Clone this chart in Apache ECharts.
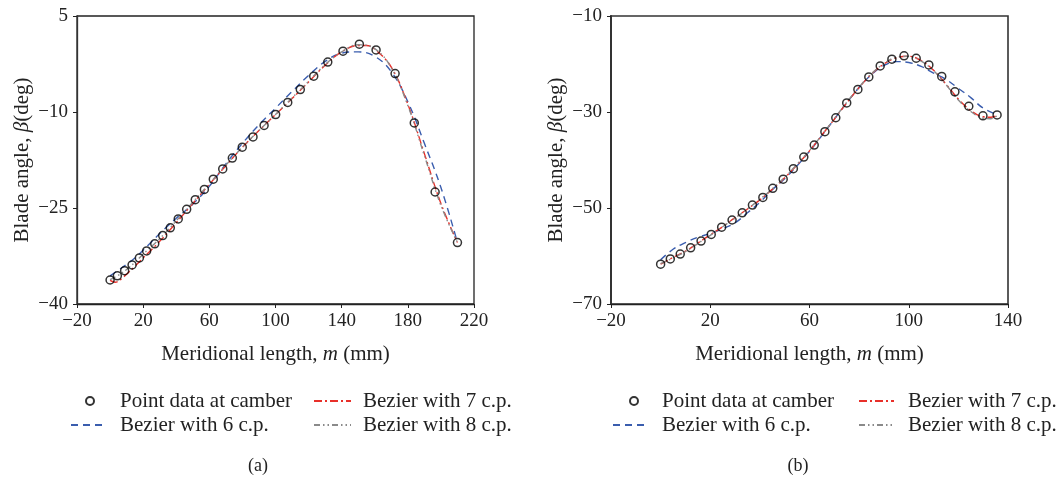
<!DOCTYPE html>
<html><head><meta charset="utf-8">
<script src="https://cdn.jsdelivr.net/npm/echarts@6/dist/echarts.min.js"></script>
<style>html,body{margin:0;padding:0;background:#fff}#c{width:1062px;height:485px}</style>
</head><body><div id="c"></div>
<script>
// ---------- (a) ----------
const aPointX = [0,4.4,8.8,13.3,17.7,22.1,27,31.8,36.4,41.2,46.3,51.5,57,62.4,68.1,73.9,79.9,86.4,93.1,100.1,107.4,115,123.1,131.6,140.8,150.7,160.8,172.3,183.9,196.5,210];
const aPointY = [-36.25,-35.6,-34.8,-33.9,-32.8,-31.7,-30.6,-29.3,-28.1,-26.7,-25.2,-23.7,-22.1,-20.5,-18.9,-17.2,-15.5,-13.9,-12.1,-10.4,-8.5,-6.5,-4.4,-2.2,-0.5,0.6,-0.3,-4.0,-11.7,-22.5,-30.4];
const a6X = [0,5,10,15,20,25,30,40,50,60,70,80,90,100,110,120,130,140,150,160,170,180,190,200,210];
const a6Y = [-35.6,-34.7,-33.8,-32.8,-31.6,-30.3,-29.0,-26.6,-24.4,-21.6,-18.1,-14.9,-12.0,-9.4,-6.8,-4.3,-2.1,-0.8,-0.6,-1.3,-3.7,-8.4,-14.9,-21.8,-30.4];
const a7X = [0,3,8,15,20,30,40,50,60,70,80,90,100,110,120,130,140,150,155,160,170,180,190,200,210];
const a7Y = [-36.3,-36.6,-35.8,-34.1,-32.8,-30.2,-27.3,-24.3,-21.3,-18.4,-15.5,-12.9,-10.4,-7.9,-5.3,-2.7,-0.6,0.4,0.4,-0.2,-3.0,-8.8,-16.5,-24.3,-30.4];
const a8X = [0,5,10,15,20,30,40,50,60,70,80,90,100,110,120,130,140,150,160,170,180,190,200,210];
const a8Y = [-36.2,-35.5,-34.6,-33.5,-32.2,-29.8,-27.0,-24.1,-21.2,-18.3,-15.5,-12.9,-10.4,-7.8,-5.2,-2.6,-0.6,0.5,-0.1,-3.1,-9.0,-16.8,-24.6,-30.4];
const aXTicks = [-20,20,60,100,140,180,220];
const aYTicks = [-40,-25,-10,5];

// ---------- (b) ----------
const bPointX = [0,3.9,7.9,12.1,16.3,20.4,24.6,28.8,32.9,37.0,41.2,45.2,49.4,53.5,57.7,61.9,66.2,70.6,75.0,79.5,83.9,88.5,93.2,98.1,103.0,108.1,113.3,118.6,124.2,129.9,135.6];
const bPointY = [-61.7,-60.6,-59.6,-58.3,-56.9,-55.5,-54.0,-52.5,-51.0,-49.4,-47.8,-45.9,-44.0,-41.8,-39.4,-36.9,-34.1,-31.2,-28.1,-25.3,-22.7,-20.4,-19.0,-18.3,-18.8,-20.2,-22.6,-25.8,-28.8,-30.8,-30.6];
const b6X = [0,5,10,15,20,25,30,35,40,45,50,55,60,65,70,75,80,85,90,95,100,105,110,115,120,125,130,136];
const b6Y = [-60.8,-58.6,-57.2,-56.1,-55.3,-54.3,-53.1,-51.0,-48.8,-46.2,-43.9,-41.2,-38.2,-34.9,-31.5,-28.1,-24.9,-22.2,-20.3,-19.5,-19.7,-20.5,-21.9,-23.2,-25.1,-27.0,-29.2,-30.6];
const b7X = [0,5,10,15,20,25,30,35,40,45,50,55,60,65,70,75,80,85,90,95,100,105,110,115,120,125,130,133,136];
const b7Y = [-61.7,-60.3,-59.0,-57.3,-55.6,-53.9,-52.0,-50.2,-48.3,-46.1,-43.7,-41.0,-38.1,-34.8,-31.5,-28.1,-24.9,-22.1,-20.0,-18.7,-18.4,-19.3,-21.3,-24.2,-27.3,-29.7,-31.0,-31.1,-30.6];
const b8X = [0,5,10,15,20,25,30,35,40,45,50,55,60,65,70,75,80,85,90,95,100,105,110,115,120,125,130,133,136];
const b8Y = [-61.6,-60.4,-59.1,-57.4,-55.7,-53.9,-52.1,-50.2,-48.2,-46.0,-43.6,-40.9,-38.0,-34.8,-31.4,-28.0,-24.8,-22.0,-19.9,-18.6,-18.4,-19.4,-21.4,-24.3,-27.5,-29.9,-31.3,-31.4,-30.6];
const bXTicks = [-20,20,60,100,140];
const bYTicks = [-70,-50,-30,-10];

const names = ['Point data at camber','Bezier with 6 c.p.','Bezier with 7 c.p.','Bezier with 8 c.p.'];
const colors = {p:'#000', b6:'#3a5dae', b7:'#e8302a', b8:'#8a8a8a'};
const FONT = 'Liberation Serif';

const zip = (xs, ys) => xs.map((x,i) => [x, ys[i]]);
const fmt = v => v < 0 ? '\u2212' + Math.abs(v) : String(v);

function xAxis(gi, min, max, ticks){
  return {type:'value', gridIndex:gi, min, max,
    name:'Meridional length, {i|m} (mm)', nameLocation:'middle', nameGap:40,
    nameTextStyle:{fontFamily:FONT, fontSize:21, color:'#222', rich:{i:{fontFamily:FONT, fontSize:21, fontStyle:'italic', color:'#222'}}},
    axisLine:{show:true, onZero:false, lineStyle:{color:'#222', width:1.3}},
    axisTick:{show:true, inside:false, length:4, customValues:ticks, lineStyle:{color:'#222'}},
    axisLabel:{customValues:ticks, formatter:fmt, fontFamily:FONT, fontSize:19, color:'#222', margin:8},
    splitLine:{show:false}};
}
function yAxis(gi, min, max, ticks, lw){
  return {type:'value', gridIndex:gi, min, max,
    name:'Blade angle, {i|β}(deg)', nameLocation:'middle', nameGap:44,
    nameTextStyle:{fontFamily:FONT, fontSize:21, color:'#222', rich:{i:{fontFamily:FONT, fontSize:21, fontStyle:'italic', color:'#222'}}},
    axisLine:{show:true, onZero:false, lineStyle:{color:'#333', width:lw}},
    axisTick:{show:true, inside:false, length:4, customValues:ticks, lineStyle:{color:'#222'}},
    axisLabel:{customValues:ticks, formatter:fmt, fontFamily:FONT, fontSize:19, color:'#222', margin:9},
    splitLine:{show:false}};
}
function pts(gi, data){
  return {name:names[0], type:'scatter', xAxisIndex:gi, yAxisIndex:gi, data, symbol:'circle', symbolSize:8, z:10,
    itemStyle:{color:'rgba(255,255,255,0)', borderColor:'#000', borderWidth:1.5}};
}
function curve(gi, name, data, color, type){
  return {name, type:'line', xAxisIndex:gi, yAxisIndex:gi, data, smooth:0.4, showSymbol:false, symbol:'none',
    lineStyle:{color, width:1.4, type}, itemStyle:{color}};
}
const dashB6 = [7,5];
const dashB7 = [8,3,2,3];
const dashB8 = [6,3,1.5,3,1.5,3];

function legend(name, left, top, iw, ih, pad, isLine){
  const l = {data:[name], left, top, orient:'horizontal', padding:0, itemWidth:iw, itemHeight:ih, selectedMode:false,
    textStyle:{fontFamily:FONT, fontSize:21, color:'#222', padding:[0,0,0,pad], lineHeight:22}};
  if (isLine) l.itemStyle = {opacity:0, borderWidth:0};
  return l;
}

const chart = echarts.init(document.getElementById('c'), null, {renderer:'canvas'});
chart.setOption({
  animation:false,
  backgroundColor:'#fff',
  grid:[
    {left:77, top:16, width:397, height:288, show:true, borderColor:'#222', borderWidth:1.3, backgroundColor:'rgba(0,0,0,0)'},
    {left:611, top:16, width:397, height:288, show:true, borderColor:'#333', borderWidth:1.6, backgroundColor:'rgba(0,0,0,0)'}
  ],
  xAxis:[xAxis(0,-20,220,aXTicks), xAxis(1,-20,140,bXTicks)],
  yAxis:[yAxis(0,-40,5,aYTicks,1.3), yAxis(1,-70,-10,bYTicks,2)],
  legend:[
    legend(names[0], 85, 390, 8, 8, 21, false),
    legend(names[1], 70, 414, 34, 14, 10, true),
    legend(names[2], 313, 390, 37, 14, 7, true),
    legend(names[3], 313, 414, 37, 14, 7, true),
    legend(names[0], 629, 390, 8, 8, 19, false),
    legend(names[1], 612, 414, 36, 14, 8, true),
    legend(names[2], 858, 390, 35, 14, 9, true),
    legend(names[3], 858, 414, 35, 14, 9, true)
  ],
  title:[
    {text:'(a)', left:258, top:457, textAlign:'center', padding:0, textStyle:{fontFamily:FONT, fontSize:18, fontWeight:'normal', color:'#222'}},
    {text:'(b)', left:798, top:457, textAlign:'center', padding:0, textStyle:{fontFamily:FONT, fontSize:18, fontWeight:'normal', color:'#222'}}
  ],
  series:[
    curve(0, names[1], zip(a6X,a6Y), colors.b6, dashB6),
    curve(0, names[2], zip(a7X,a7Y), colors.b7, dashB7),
    curve(0, names[3], zip(a8X,a8Y), colors.b8, dashB8),
    pts(0, zip(aPointX,aPointY)),
    curve(1, names[1], zip(b6X,b6Y), colors.b6, dashB6),
    curve(1, names[2], zip(b7X,b7Y), colors.b7, dashB7),
    curve(1, names[3], zip(b8X,b8Y), colors.b8, dashB8),
    pts(1, zip(bPointX,bPointY))
  ]
});
</script></body></html>
